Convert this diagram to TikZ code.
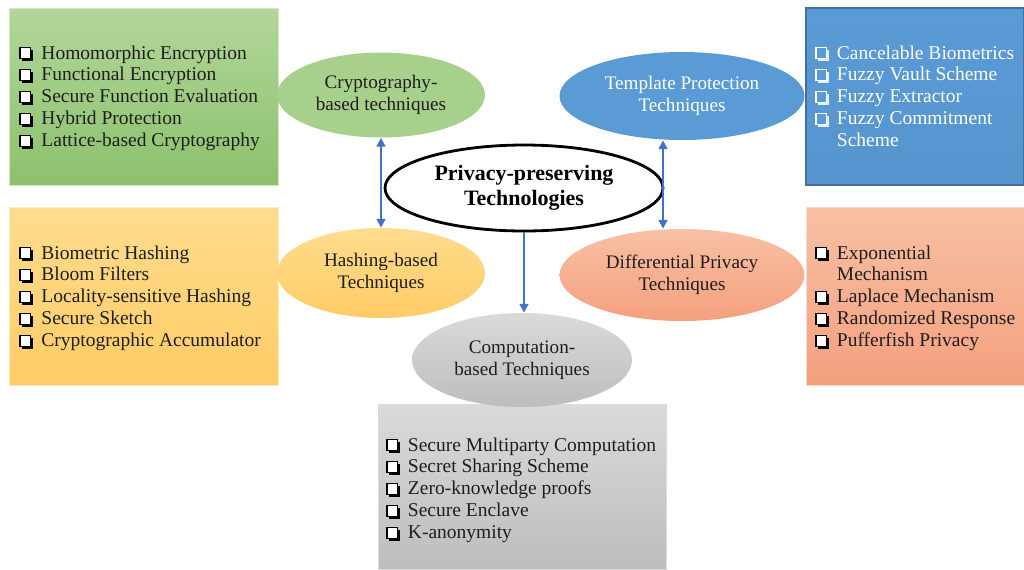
\documentclass[tikz,border=0pt]{standalone}
\usepackage{fontspec}
\setmainfont{Liberation Serif}
\usetikzlibrary{shapes.geometric,arrows.meta}
\definecolor{gtop}{HTML}{B2D69A}
\definecolor{gbot}{HTML}{8CC16C}
\definecolor{gell}{HTML}{A8D08D}
\definecolor{btop}{HTML}{5B9BD5}
\definecolor{bbot}{HTML}{5694CE}
\definecolor{bbord}{HTML}{41719C}
\definecolor{ytop}{HTML}{FFDC8E}
\definecolor{ybot}{HTML}{FFCC66}
\definecolor{otop}{HTML}{F8C0A4}
\definecolor{obot}{HTML}{F4A07E}
\definecolor{stop}{HTML}{DADADA}
\definecolor{sbot}{HTML}{BDBDBD}
\definecolor{arrc}{HTML}{4472C4}
\definecolor{txt}{HTML}{1E1E1E}
\newcommand{\cbx}{\tikz[baseline=0pt,x=1pt,y=1pt]{\fill[black] (1.3,-1.3) rectangle (7.8,5.2); \draw[fill=white,draw=black,line width=0.7pt] (0.35,0.35) rectangle (6.4,6.4);}}
\newcommand{\cbw}{\tikz[baseline=0pt,x=1pt,y=1pt]{\fill[white!85!btop] (1.3,-1.3) rectangle (7.8,5.2); \draw[fill=btop,draw=white,line width=0.7pt] (0.35,0.35) rectangle (6.4,6.4);}}
\tikzset{
  box/.style={rectangle, inner sep=0pt},
  ell/.style={ellipse, inner sep=0pt, align=center, text=txt,
    font=\fontsize{10.9}{12.6}\selectfont},
  lst/.style={anchor=base west, inner sep=0pt, text=txt,
    font=\fontsize{11.1}{12.5}\selectfont},
  arr/.style={draw=arrc, line width=1.2pt, {Triangle[length=5pt,width=5pt]}-{Triangle[length=5pt,width=5pt]}},
  arrd/.style={draw=arrc, line width=1.2pt, -{Triangle[length=5pt,width=5pt]}}
}
\newcommand{\lrow}[1]{\cbx & #1\\}
\newcommand{\wrow}[1]{\cbw & #1\\}
\begin{document}
\begin{tikzpicture}[x=0.02cm,y=-0.02cm]
\useasboundingbox (0,0) rectangle (1024,569);
\fill[white] (0,0) rectangle (1024,569);
% boxes
\node[box, minimum width=5.38cm, minimum height=3.54cm, top color=gtop, bottom color=gbot, draw=gtop!60!white] (gbox) at (143.5,96.5) {};
\node[box, minimum width=4.36cm, minimum height=3.54cm, top color=btop, bottom color=bbot, draw=bbord, line width=0.8pt] (bbox) at (915,96.5) {};
\node[box, minimum width=5.38cm, minimum height=3.56cm, top color=ytop, bottom color=ybot, draw=ytop!60!white] (ybox) at (143.5,296) {};
\node[box, minimum width=4.36cm, minimum height=3.56cm, top color=otop, bottom color=obot, draw=otop!60!white] (obox) at (915,296) {};
\node[box, minimum width=5.76cm, minimum height=3.3cm, top color=stop, bottom color=sbot, draw=stop] (sbox) at (522,487) {};
% lists
\node[lst] (glist) at (19,59) {\begin{tabular}[t]{@{}l@{\hspace{4.8pt}}l@{}}
\lrow{Homomorphic Encryption}
\lrow{Functional Encryption}
\lrow{Secure Function Evaluation}
\lrow{Hybrid Protection}
\lrow{Lattice-based Cryptography}
\end{tabular}};
\node[lst, text=white] (blist) at (815,59) {\begin{tabular}[t]{@{}l@{\hspace{4.5pt}}l@{}}
\wrow{Cancelable Biometrics}
\wrow{Fuzzy Vault Scheme}
\wrow{Fuzzy Extractor}
\wrow{Fuzzy Commitment}
 & Scheme\\
\end{tabular}};
\node[lst] (ylist) at (19,259) {\begin{tabular}[t]{@{}l@{\hspace{4.8pt}}l@{}}
\lrow{Biometric Hashing}
\lrow{Bloom Filters}
\lrow{Locality-sensitive Hashing}
\lrow{Secure Sketch}
\lrow{Cryptographic Accumulator}
\end{tabular}};
\node[lst] (olist) at (815,259) {\begin{tabular}[t]{@{}l@{\hspace{4.5pt}}l@{}}
\lrow{Exponential}
 & Mechanism\\
\lrow{Laplace Mechanism}
\lrow{Randomized Response}
\lrow{Pufferfish Privacy}
\end{tabular}};
\node[lst] (slist) at (386,451) {\begin{tabular}[t]{@{}l@{\hspace{4.5pt}}l@{}}
\lrow{Secure Multiparty Computation}
\lrow{Secret Sharing Scheme}
\lrow{Zero-knowledge proofs}
\lrow{Secure Enclave}
\lrow{K-anonymity}
\end{tabular}};
% ellipses
\node[ell, minimum width=4.16cm, minimum height=1.7cm, fill=gell] (crypto) at (381,95) {Cryptography-\\based techniques};
\node[ell, minimum width=4.9cm, minimum height=1.76cm, fill=btop, text=white] (tmpl) at (682,96) {Template Protection\\Techniques};
\node[ell, minimum width=4.16cm, minimum height=1.8cm, top color=ytop, bottom color=ybot] (hash) at (381,273) {Hashing-based\\Techniques};
\node[ell, minimum width=4.9cm, minimum height=1.84cm, top color=otop, bottom color=obot] (diff) at (682,275) {Differential Privacy\\Techniques};
\node[ell, minimum width=4.4cm, minimum height=1.88cm, top color=stop, bottom color=sbot] (comp) at (522,360) {Computation-\\based Techniques};
\node[ell, minimum width=5.56cm, minimum height=1.72cm, fill=white, draw=black, line width=1.6pt, text=black, font=\bfseries\fontsize{12.5}{14.2}\selectfont] (core) at (524,188) {Privacy-preserving\\Technologies};
% arrows
\draw[arr] (crypto.south) -- (crypto.south |- hash.north);
\draw[arr] ([xshift=-0.38cm]tmpl.south) -- ([xshift=-0.38cm]tmpl.south |- diff.north);
\draw[arrd] (core.south) -- (core.south |- comp.north);
\end{tikzpicture}
\end{document}
